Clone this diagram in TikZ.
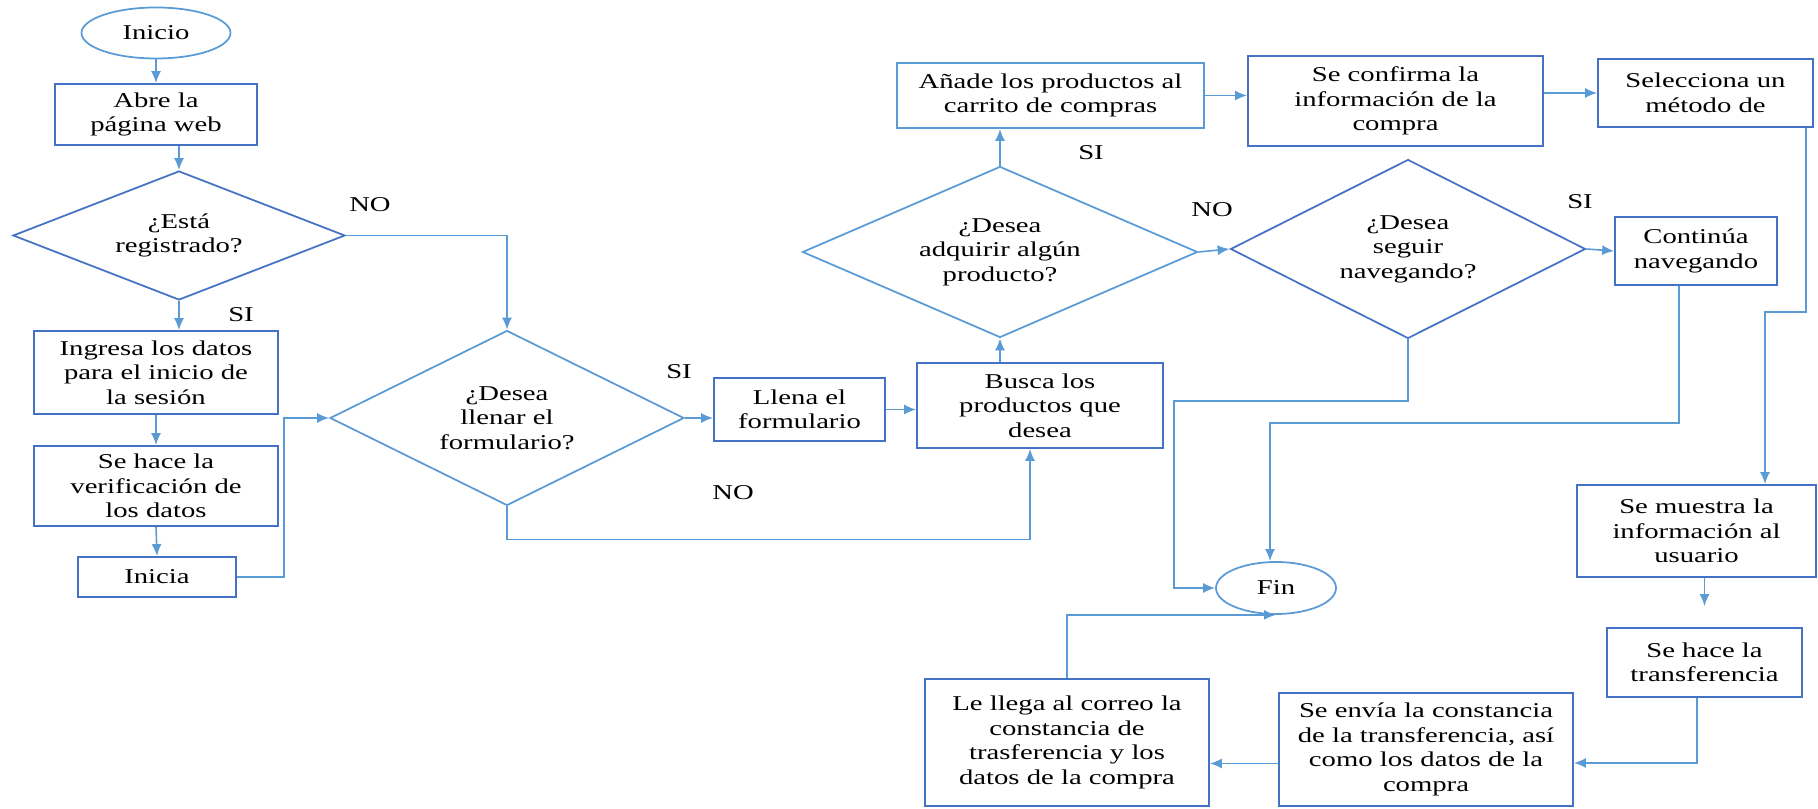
\documentclass[tikz,border=0pt]{standalone}
\usepackage{fontspec}
\setmainfont{Liberation Serif}[FakeStretch=1.36]
\usepackage{tikz}
\usetikzlibrary{arrows.meta,shapes.geometric}

\definecolor{darkblue}{RGB}{68,114,196}
\definecolor{lightblue}{RGB}{91,155,213}

\begin{document}
\begin{tikzpicture}[
  font=\fontsize{12}{13.9}\selectfont,
  box/.style={draw=darkblue, line width=1pt, rectangle, align=center, inner sep=0pt},
  lbox/.style={box, draw=lightblue},
  ask/.style={draw=darkblue, line width=1pt, diamond, align=center, inner sep=0pt},
  lask/.style={ask, draw=lightblue},
  term/.style={draw=lightblue, line width=1pt, ellipse, inner sep=0pt},
  flow/.style={draw=lightblue, line width=0.9pt, -{Latex[length=2.4mm,width=2mm]}},
  tag/.style={inner sep=0pt}
]
  % page frame
  \useasboundingbox (0,0) rectangle (36.36,16.16);

  % left column
  \node[term, minimum width=2.98cm, minimum height=1.02cm] (inicio) at (3.12,15.50) {Inicio};
  \node[box, minimum width=4.04cm, minimum height=1.22cm] (abre) at (3.12,13.87) {Abre la\\página web};
  \node[ask, aspect=2.57, minimum width=6.64cm, minimum height=2.58cm] (reg) at (3.58,11.45) {¿Está\\registrado?};
  \node[box, minimum width=4.88cm, minimum height=1.66cm] (ingresa) at (3.12,8.71) {Ingresa los datos\\para el inicio de\\la sesión};
  \node[box, minimum width=4.88cm, minimum height=1.60cm] (verif) at (3.12,6.44) {Se hace la\\verificación de\\los datos};
  \node[box, minimum width=3.16cm, minimum height=0.80cm] (inicia) at (3.14,4.62) {Inicia};

  % middle
  \node[lask, aspect=2.02, minimum width=7.08cm, minimum height=3.50cm] (form) at (10.14,7.80) {¿Desea\\llenar el\\formulario?};
  \node[box, minimum width=3.42cm, minimum height=1.26cm] (llena) at (15.99,7.97) {Llena el\\formulario};
  \node[box, minimum width=4.92cm, minimum height=1.70cm] (busca) at (20.80,8.05) {Busca los\\productos que\\desea};
  \node[lask, aspect=2.31, minimum width=7.90cm, minimum height=3.42cm] (adq) at (20.00,11.12) {¿Desea\\adquirir algún\\producto?};
  \node[lbox, minimum width=6.14cm, minimum height=1.30cm] (anade) at (21.01,14.25) {Añade los productos al\\carrito de compras};

  % right side
  \node[box, minimum width=5.90cm, minimum height=1.80cm] (confirma) at (27.91,14.14) {Se confirma la\\información de la\\compra};
  \node[box, minimum width=4.30cm, minimum height=1.36cm] (selecc) at (34.11,14.30) {Selecciona un\\método de};
  \node[ask, aspect=1.98, minimum width=7.10cm, minimum height=3.58cm] (seguir) at (28.16,11.18) {¿Desea\\seguir\\navegando?};
  \node[box, minimum width=3.24cm, minimum height=1.36cm] (continua) at (33.92,11.14) {Continúa\\navegando};
  \node[box, minimum width=4.78cm, minimum height=1.84cm] (muestra) at (33.93,5.54) {Se muestra la\\información al\\usuario};
  \node[box, minimum width=3.90cm, minimum height=1.38cm] (transf) at (34.09,2.91) {Se hace la\\transferencia};
  \node[box, minimum width=5.88cm, minimum height=2.26cm] (envia) at (28.52,1.17) {Se envía la constancia\\de la transferencia, así\\como los datos de la\\compra};
  \node[box, minimum width=5.68cm, minimum height=2.54cm] (correo) at (21.34,1.31) {Le llega al correo la\\constancia de\\trasferencia y los\\datos de la compra};
  \node[term, minimum width=2.40cm, minimum height=1.04cm] (fin) at (25.52,4.40) {Fin};

  % turning points
  \coordinate (s1) at (23.48,8.14);
  \coordinate (s2) at (25.40,7.70);

  % connectors
  \draw[flow] (inicio.south) -- (abre.north);
  \draw[flow] (reg.north |- abre.south) -- (reg.north);
  \draw[flow] (reg.east) -| (form.north);
  \draw[flow] (reg.south) -- (reg.south |- ingresa.north);
  \draw[flow] (ingresa.south) -- (verif.north);
  \draw[flow] (verif.south) -- (inicia.north);
  \draw[flow] (inicia.east) -- ++(0.94,0) |- (form.west);
  \draw[flow] (form.east) -- (form.east -| llena.west);
  \draw[flow] (llena.east) -- (llena.east -| busca.west);
  \draw[flow] (form.south) -- ++(0,-0.66) -| ([xshift=-0.2cm]busca.south);
  \draw[flow] (adq.south |- busca.north) -- (adq.south);
  \draw[flow] (adq.north) -- (adq.north |- anade.south);
  \draw[flow] (anade.east) -- (anade.east -| confirma.west);
  \draw[flow] (selecc.west -| confirma.east) -- (selecc.west);
  \draw[flow] (adq.east) -- (seguir.west);
  \draw[flow] (seguir.east) -- (continua.west);
  \draw[flow] (seguir.south) |- (s1) |- (fin.west);
  \draw[flow] ([xshift=-0.34cm]continua.south) |- (s2) -- (s2 |- fin.north);
  \draw[flow] ([xshift=-0.16cm]selecc.south east) |- (35.30,9.92) -- (35.30,0 |- muestra.north);
  \draw[flow, shorten >=0.42cm] (transf.north |- muestra.south) -- (transf.north);
  \draw[flow] ([xshift=-0.15cm]transf.south) |- ([yshift=-0.27cm]envia.east);
  \draw[flow] ([yshift=-0.28cm]envia.west) -- ([yshift=-0.28cm]envia.west -| correo.east);
  \draw[flow] (correo.north) |- (fin.south);

  % answers
  \node[tag] (no1) at (7.40,12.06) {NO};
  \node[tag] (si1) at (4.82,9.86) {SI};
  \node[tag] (si2) at (13.58,8.72) {SI};
  \node[tag] (no2) at (14.66,6.30) {NO};
  \node[tag] (si3) at (21.82,13.10) {SI};
  \node[tag] (no3) at (24.24,11.96) {NO};
  \node[tag] (si4) at (31.60,12.12) {SI};
\end{tikzpicture}
\end{document}
